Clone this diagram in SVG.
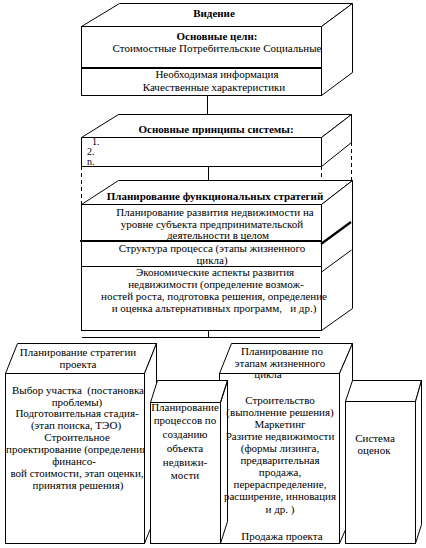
<svg xmlns="http://www.w3.org/2000/svg" width="426" height="548" viewBox="0 0 426 548" font-family="'Liberation Serif', 'Times New Roman', serif" font-size="11">
<style>
text{fill:#000;text-anchor:middle}
.b{font-weight:bold}
.l{text-anchor:start}
.n{font-size:10px}
.f{fill:#fff;stroke:#000;stroke-width:1}
.o{fill:none;stroke:#000;stroke-width:1}
.ln{stroke:#000;stroke-width:1;fill:none}
.thick{stroke:#000;stroke-width:2.2;fill:none}
.dash{stroke:#000;stroke-width:1;stroke-dasharray:4 3;fill:none}
</style>
<rect x="0" y="0" width="426" height="548" fill="#fff"/>
<g id="connectors">
<line class="ln" x1="207.5" y1="95" x2="207.5" y2="114"/>
<line class="ln" x1="208.5" y1="166" x2="208.5" y2="180"/>
<line class="dash" x1="81.5" y1="166" x2="81.5" y2="204"/>
<line class="dash" x1="321.5" y1="166" x2="321.5" y2="204"/>
<line class="dash" x1="351.5" y1="142" x2="351.5" y2="180"/>
<line class="ln" x1="208.5" y1="330" x2="208.5" y2="337"/>
<line class="ln" x1="82" y1="337.5" x2="320" y2="337.5"/>
</g>
<g id="vision">
<polygon class="f" points="81.5,26.5 119.5,3.5 352.5,3.5 321.5,26.5"/>
<polygon class="f" points="321.5,26.5 352.5,3.5 352.5,72.5 321.5,95.5"/>
<rect class="f" x="81.5" y="26.5" width="240" height="69"/>
<line class="thick" x1="81" y1="68" x2="321" y2="68"/>
<text class="b" x="214" y="17">Видение</text>
<text class="b" x="217" y="40">Основные цели:</text>
<text x="217" y="52">Стоимостные Потребительские Социальные</text>
<text x="217" y="78">Необходимая информация</text>
<text x="214" y="91">Качественные характеристики</text>
</g>
<g id="principles">
<polygon class="f" points="81.5,137.5 118.5,114.5 351.5,114.5 321.5,137.5"/>
<polygon class="f" points="321.5,137.5 351.5,114.5 351.5,142.5 321.5,166.5"/>
<rect class="f" x="81.5" y="137.5" width="240" height="29"/>
<text class="b" x="216" y="133">Основные принципы системы:</text>
<text class="l n" x="92" y="145">1.</text>
<text class="l n" x="87" y="155">2.</text>
<text class="l n" x="87" y="165">n.</text>
</g>
<g id="functional">
<polygon class="f" points="81.5,204.5 118.5,180.5 352.5,180.5 321.5,204.5"/>
<polygon class="f" points="321.5,204.5 352.5,180.5 352.5,308.5 321.5,330.5"/>
<rect class="f" x="81.5" y="204.5" width="240" height="126"/>
<line class="thick" x1="80" y1="241" x2="321" y2="241"/>
<line class="thick" x1="321" y1="244" x2="351" y2="222"/>
<line class="ln" x1="81" y1="266.5" x2="321" y2="266.5"/>
<line class="ln" x1="321.5" y1="272" x2="351.5" y2="250"/>
<text class="b" x="215" y="200">Планирование функциональных стратегий</text>
<text x="215" y="216">Планирование развития недвижимости на</text>
<text x="212" y="228">уровне субъекта предпринимательской</text>
<text x="218" y="239">деятельности в целом</text>
<text x="212" y="252">Структура процесса (этапы жизненного</text>
<text x="212" y="264">цикла)</text>
<text x="215" y="276">Экономические аспекты развития</text>
<text x="216" y="288">недвижимости (определение возмож-</text>
<text x="214" y="300">ностей роста, подготовка решения, определение</text>
<text x="214" y="312" xml:space="preserve">и оценка альтернативных программ,   и др.)</text>
</g>
<g id="strategy">
<polygon class="f" points="5.5,373.5 17.5,343.5 156.5,343.5 144.5,373.5"/>
<rect class="f" x="5.5" y="373.5" width="139" height="170"/>
<text x="78" y="356">Планирование стратегии</text>
<text x="78" y="368">проекта</text>
<text x="78" y="394" xml:space="preserve">Выбор участка  (постановка</text>
<text x="77" y="406">проблемы)</text>
<text x="77" y="417">Подготовительная стадия-</text>
<text x="76" y="429">(этап поиска, ТЭО)</text>
<text x="77" y="441">Строительное</text>
<text class="l" x="6" y="453">проектирование (определения</text>
<text x="74" y="465">финансо-</text>
<text x="77" y="477">вой стоимости, этап оценки,</text>
<text x="78" y="489">принятия решения)</text>
<polygon class="f" points="144.5,373.5 156.5,343.5 156.5,513.5 144.5,543.5"/>
</g>
<g id="lifecycle">
<polygon class="f" points="219.5,373.5 231.5,343.5 352.5,343.5 339.5,373.5"/>
<polygon class="f" points="339.5,373.5 352.5,343.5 352.5,513.5 339.5,543.5"/>
<rect class="f" x="219.5" y="373.5" width="120" height="170"/>
<text x="282" y="355">Планирование по</text>
<text x="280" y="367">этапам жизненного</text>
<text x="268" y="378">цикла</text>
<line class="ln" x1="219.5" y1="373.5" x2="339.5" y2="373.5"/>
<text x="280" y="404">Строительство</text>
<text x="280" y="416">(выполнение решения)</text>
<text x="280" y="428">Маркетинг</text>
<text x="280" y="440">Разитие недвижимости</text>
<text x="280" y="452">(формы лизинга,</text>
<text x="280" y="464">предварительная</text>
<text x="280" y="476">продажа,</text>
<text x="280" y="488">перераспределение,</text>
<text x="280" y="500">расширение, инновация</text>
<text x="280" y="513">и др. )</text>
<text x="282" y="540">Продажа проекта</text>
</g>
<g id="processes">
<polygon class="f" points="150.5,402.5 157.5,380.5 227.5,380.5 220.5,402.5"/>
<polygon class="o" points="220.5,402.5 227.5,380.5 227.5,521.5 220.5,543.5"/>
<rect class="f" x="150.5" y="402.5" width="70" height="141"/>
<text x="185" y="411">Планирование</text>
<text x="185" y="424">процессов по</text>
<text x="185" y="438">созданию</text>
<text x="185" y="452">объекта</text>
<text x="185" y="466">недвижи-</text>
<text x="185" y="479">мости</text>
</g>
<g id="evaluation">
<polygon class="f" points="345.5,401.5 352.5,380.5 421.5,380.5 415.5,401.5"/>
<polygon class="f" points="415.5,401.5 421.5,380.5 421.5,524.5 415.5,543.5"/>
<rect class="f" x="345.5" y="401.5" width="70" height="142"/>
<text x="375" y="442">Система</text>
<text x="374" y="454">оценок</text>
</g>
</svg>
